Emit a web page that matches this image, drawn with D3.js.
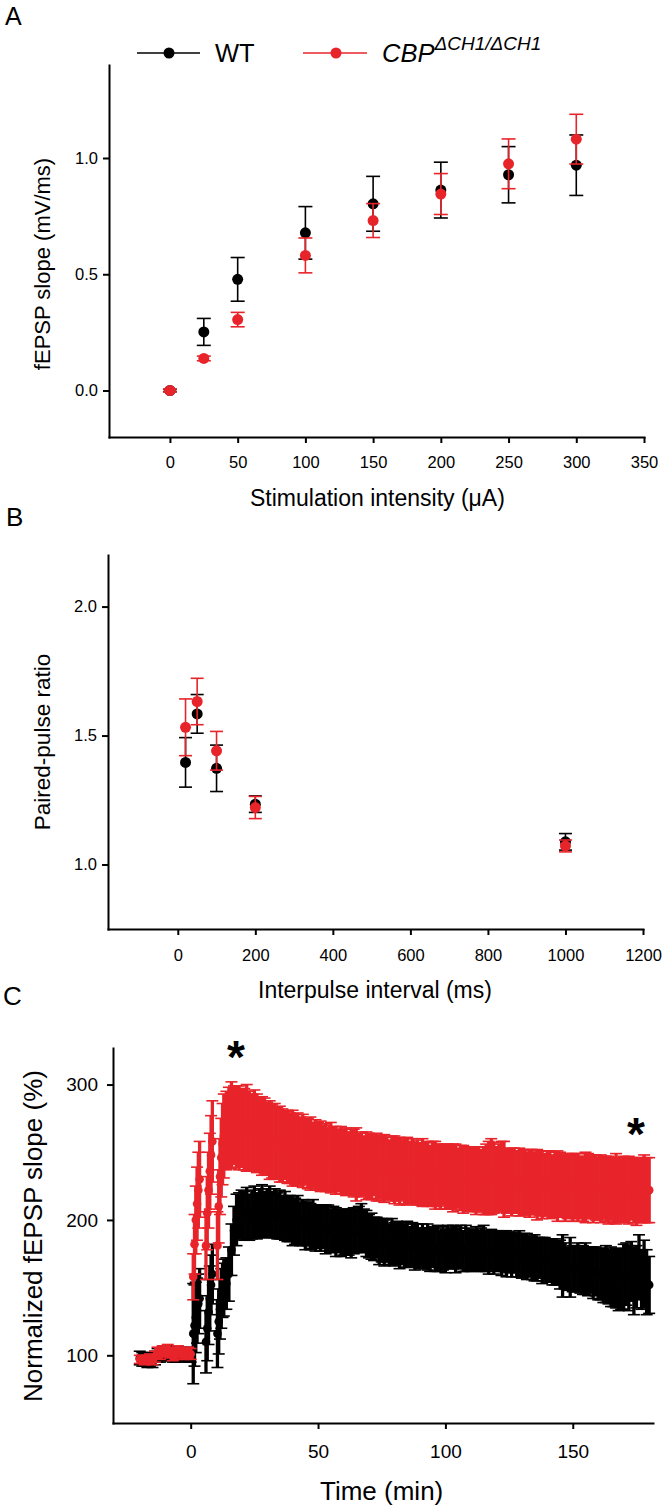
<!DOCTYPE html>
<html><head><meta charset="utf-8">
<script src="https://cdn.jsdelivr.net/npm/d3@7"></script>
<style>
body{margin:0;background:#fff}
svg{display:block}
text{font-family:"Liberation Sans",Arial,Helvetica,sans-serif;fill:#000}
</style>
</head><body>
<svg id="chart" width="666" height="1510"></svg>
<script>
// ---------- Panel A data ----------
const intensity = [0, 25, 50, 100, 150, 200, 250, 300];
const wtSlope = [0.00, 0.252, 0.478, 0.678, 0.803, 0.862, 0.928, 0.969];
const wtSlopeSem = [0.005, 0.058, 0.094, 0.113, 0.118, 0.12, 0.121, 0.13];
const cbpSlope = [0.00, 0.138, 0.305, 0.581, 0.731, 0.845, 0.975, 1.081];
const cbpSlopeSem = [0.006, 0.01, 0.031, 0.075, 0.073, 0.088, 0.107, 0.107];
const ticksAx = [0, 50, 100, 150, 200, 250, 300, 350];
const ticksAy = [0, 0.5, 1.0];

// ---------- Panel B data ----------
const interval = [20, 50, 100, 200, 1000];
const wtPPR = [1.396, 1.584, 1.373, 1.234, 1.088];
const wtPPRSem = [0.096, 0.075, 0.09, 0.032, 0.032];
const cbpPPR = [1.532, 1.632, 1.441, 1.221, 1.072];
const cbpPPRSem = [0.11, 0.09, 0.075, 0.043, 0.023];
const ticksBx = [0, 200, 400, 600, 800, 1000, 1200];
const ticksBy = [1.0, 1.5, 2.0];

// ---------- Panel C data ----------
const ltpTime = [
 -20,-19,-18,-17,-16,-15,-14,-13,-12,-11,
 -10,-9,-8,-7,-6,-5,-4,-3,-2,-1,
 0,
 1,1.5,2,2.5,3,3.5,
 6,6.5,7,7.5,8,8.5,
 10.5,11,11.5,12,12.5,
 13,14,15,16,17,18,19,20,
 21,22,23,24,25,26,27,28,29,30,
 31,32,33,34,35,36,37,38,39,40,
 41,42,43,44,45,46,47,48,49,50,
 51,52,53,54,55,56,57,58,59,60,
 61,62,63,64,65,66,67,68,69,70,
 71,72,73,74,75,76,77,78,79,80,
 81,82,83,84,85,86,87,88,89,90,
 91,92,93,94,95,96,97,98,99,100,
 101,102,103,104,105,106,107,108,109,110,
 111,112,113,114,115,116,117,118,119,120,
 121,122,123,124,125,126,127,128,129,130,
 131,132,133,134,135,136,137,138,139,140,
 141,142,143,144,145,146,147,148,149,150,
 151,152,153,154,155,156,157,158,159,160,
 161,162,163,164,165,166,167,168,169,170,
 171,172,173,174,175,176,177,178,179,180];

const wtLTP = [
 98,97,97,96,97,96,98,100,100,101,
 102,102,101,100,100,101,101,100,101,100,
 100,
 116,122,128,133,138,142,
 110,120,132,142,152,160,
 116,125,134,142,148,
 150,153,160,178,192,200,203,204,
 203,205,202,204,206,203,205,207,204,205,
 206,204,205,203,204,202,203,201,201,199,
 199,200,197,198,196,197,195,197,194,195,
 194,195,193,194,192,193,191,192,190,191,
 190,191,190,192,192,193,194,192,190,188,
 188,186,187,184,185,183,185,182,184,182,
 183,181,183,181,182,180,182,180,181,179,
 181,179,180,178,180,178,179,177,179,177,
 180,179,180,178,179,180,177,179,178,177,
 178,179,177,178,179,177,176,178,176,177,
 177,175,177,175,176,174,176,174,175,173,
 174,173,173,172,172,171,172,170,171,170,
 170,169,169,168,167,166,166,164,165,164,
 164,165,163,163,164,162,163,161,162,160,
 160,159,160,158,158,157,157,156,156,158,
 160,157,162,155,158,165,156,160,154,152];

const wtLTPSem = [
 5,5,5,5,5,5,5,5,5,5,
 5,5,5,5,5,5,5,5,5,5,
 5,
 37,30,26,24,22,22,
 23,24,24,24,22,22,
 25,24,22,22,20,
 21,19,20,19,18,19,17,18,
 18,19,17,18,19,17,18,19,17,18,
 19,17,18,17,18,16,18,17,17,18,
 17,18,16,17,18,16,17,18,17,16,
 17,16,18,17,16,17,18,16,17,17,
 16,17,18,17,16,17,18,16,17,16,
 17,16,15,17,16,17,16,15,17,16,
 16,17,15,16,17,15,16,17,16,15,
 16,15,17,16,15,16,17,15,16,16,
 16,15,16,17,15,16,15,17,16,15,
 15,16,15,16,17,15,16,15,16,15,
 15,16,15,17,15,16,15,16,17,16,
 16,17,15,16,17,16,15,17,16,16,
 16,17,17,16,18,23,17,16,22,17,
 17,18,17,18,19,18,17,19,18,19,
 19,20,21,20,22,21,22,23,22,24,
 23,24,22,25,23,24,22,25,24,21];

const cbpLTP = [
 97,97,96,97,98,96,99,102,101,103,
 103,104,102,100,101,103,102,101,101,102,
 101,
 158,182,200,212,222,230,
 181,205,222,236,248,258,
 181,210,232,246,256,
 262,266,268,270,270,269,268,268,
 267,268,266,265,266,264,263,262,262,260,
 259,258,258,257,256,255,255,254,253,253,
 252,252,251,251,250,249,249,248,248,247,
 247,246,246,245,246,245,244,244,244,243,
 243,242,243,242,241,241,241,240,240,240,
 239,240,239,238,239,238,238,237,238,237,
 237,236,237,236,236,235,236,235,235,234,
 235,234,234,233,234,233,233,232,233,232,
 232,232,231,232,231,231,230,231,230,230,
 230,229,230,229,229,230,231,232,231,230,
 231,232,230,229,229,228,229,228,228,227,
 228,227,227,228,227,226,227,226,226,227,
 226,225,226,225,226,225,224,225,225,224,
 225,224,224,223,224,225,224,223,224,223,
 223,224,223,222,223,222,223,222,222,223,
 222,222,223,222,221,222,222,223,222,222];

const cbpLTPSem = [
 3,3,3,3,3,3,4,4,4,4,
 4,4,4,4,4,4,4,4,4,4,
 4,
 17,22,25,27,28,28,
 25,27,28,28,29,30,
 25,27,28,29,30,
 31,29,30,32,29,30,31,29,
 30,32,29,28,30,29,27,29,28,27,
 29,27,28,26,28,27,25,27,26,28,
 26,27,25,27,24,26,27,24,26,25,
 26,24,25,23,26,24,25,23,25,24,
 25,23,24,25,27,23,24,22,25,24,
 24,22,25,24,23,25,23,22,24,25,
 23,25,22,24,25,23,24,22,24,23,
 25,23,24,22,24,25,23,24,22,24,
 24,23,25,24,22,24,25,23,24,23,
 23,25,24,23,25,26,27,28,26,24,
 25,26,28,24,23,25,24,23,25,24,
 24,23,25,24,23,26,24,25,23,24,
 25,23,24,26,24,23,25,24,23,25,
 24,25,23,24,26,24,23,25,24,23,
 25,23,24,25,23,24,26,24,23,24,
 24,25,23,24,25,23,24,25,24,24];

const ticksCx = [0, 50, 100, 150];
const ticksCy = [100, 200, 300];

// ---------- Drawing ----------
const RED = '#e8242b', BLACK = '#000000';
const svg = d3.select('#chart');

function series(xs, ms, es) {
  const n = Math.min(xs.length, ms.length, es.length);
  return d3.range(n).map(i => ({x: xs[i], m: ms[i], e: es[i]}));
}

function drawErr(g, data, x, y, color, cap, r, sw, csw, dotsOnTop) {
  const gg = g.append('g');
  const bars = gg.append('g').attr('stroke', color).attr('fill', 'none');
  data.forEach(d => {
    const cx = x(d.x), y1 = y(d.m - d.e), y2 = y(d.m + d.e);
    bars.append('line').attr('x1', cx).attr('x2', cx).attr('y1', y1).attr('y2', y2).attr('stroke-width', sw);
    bars.append('line').attr('x1', cx - cap).attr('x2', cx + cap).attr('y1', y1).attr('y2', y1).attr('stroke-width', csw);
    bars.append('line').attr('x1', cx - cap).attr('x2', cx + cap).attr('y1', y2).attr('y2', y2).attr('stroke-width', csw);
  });
  const dots = gg.append('g').attr('fill', color);
  dots.selectAll('circle').data(data).join('circle')
    .attr('cx', d => x(d.x)).attr('cy', d => y(d.m)).attr('r', r);
  if (!dotsOnTop) dots.lower();
}

function axes(g, x, y, o) {
  const xa = g.append('g').attr('transform', `translate(0,${y.range()[0]})`)
    .call(d3.axisBottom(x).tickValues(o.xt).tickSize(6).tickSizeOuter(0).tickPadding(o.xpad).tickFormat(o.xf));
  const ya = g.append('g').attr('transform', `translate(${x.range()[0]},0)`)
    .call(d3.axisLeft(y).tickValues(o.yt).tickSize(6).tickSizeOuter(0).tickPadding(o.ypad).tickFormat(o.yf));
  [xa, ya].forEach(a => {
    a.select('.domain').attr('stroke', '#000').attr('stroke-width', 2).attr('stroke-linecap', 'square');
    a.selectAll('.tick line').attr('stroke', '#000').attr('stroke-width', 2);
    a.selectAll('text').attr('font-family', '"Liberation Sans",Arial,sans-serif').attr('fill', '#000');
  });
  xa.selectAll('text').attr('font-size', o.fs);
  ya.selectAll('text').attr('font-size', o.fs);
}

// ----- Panel A -----
const xA = d3.scaleLinear().domain([-45, 350]).range([109, 644]);
const yA = d3.scaleLinear().domain([-0.2, 1.4]).range([437, 65]);
const gA = svg.append('g');
axes(gA, xA, yA, {xt: ticksAx, yt: ticksAy, xpad: 13, ypad: 5, xf: d3.format('d'), yf: d3.format('.1f'), fs: '16.5px'});
drawErr(gA, series(intensity, wtSlope, wtSlopeSem), xA, yA, BLACK, 7, 5.5, 1.6, 1.6, true);
drawErr(gA, series(intensity, cbpSlope, cbpSlopeSem), xA, yA, RED, 7, 5.5, 1.6, 1.6, true);
gA.append('text').attr('x', 250).attr('y', 505.5).attr('font-size', '23px').text('Stimulation intensity (\u03bcA)');
gA.append('text').attr('transform', 'translate(50,264) rotate(-90)').attr('text-anchor', 'middle')
  .attr('font-size', '22px').text('fEPSP slope (mV/ms)');
svg.append('text').attr('x', 5).attr('y', 25).attr('font-size', '25px').text('A');

// legend
const lg = svg.append('g');
lg.append('line').attr('x1', 137).attr('x2', 200).attr('y1', 53).attr('y2', 53).attr('stroke', BLACK).attr('stroke-width', 1.6);
lg.append('circle').attr('cx', 169).attr('cy', 53).attr('r', 5.5).attr('fill', BLACK);
lg.append('text').attr('x', 215).attr('y', 61.7).attr('font-size', '25.5px').text('WT');
lg.append('line').attr('x1', 303).attr('x2', 367).attr('y1', 53).attr('y2', 53).attr('stroke', RED).attr('stroke-width', 1.6);
lg.append('circle').attr('cx', 336).attr('cy', 53).attr('r', 5.5).attr('fill', RED);
const lt = lg.append('text').attr('x', 382).attr('y', 61.7).attr('font-size', '25.5px').attr('font-style', 'italic');
lt.append('tspan').text('CBP');
lt.append('tspan').attr('dy', -11.7).attr('font-size', '19px').text('\u0394CH1/\u0394CH1');

// ----- Panel B -----
const xB = d3.scaleLinear().domain([-180, 1200]).range([108, 643]);
const yB = d3.scaleLinear().domain([0.75, 2.2]).range([929, 555]);
const gB = svg.append('g');
axes(gB, xB, yB, {xt: ticksBx, yt: ticksBy, xpad: 14, ypad: 5, xf: d3.format('d'), yf: d3.format('.1f'), fs: '16.5px'});
drawErr(gB, series(interval, wtPPR, wtPPRSem), xB, yB, BLACK, 6.5, 5.5, 1.6, 1.6, true);
drawErr(gB, series(interval, cbpPPR, cbpPPRSem), xB, yB, RED, 6.5, 5.5, 1.6, 1.6, true);
gB.append('text').attr('x', 258).attr('y', 998).attr('font-size', '23px').text('Interpulse interval (ms)');
gB.append('text').attr('transform', 'translate(50,742) rotate(-90)').attr('text-anchor', 'middle')
  .attr('font-size', '22.5px').text('Paired-pulse ratio');
svg.append('text').attr('x', 6).attr('y', 526).attr('font-size', '26px').text('B');

// ----- Panel C -----
const xC = d3.scaleLinear().domain([-30.5, 181.5]).range([113, 653]);
const yC = d3.scaleLinear().domain([50, 327]).range([1423, 1048]);
const gC = svg.append('g');
axes(gC, xC, yC, {xt: ticksCx, yt: ticksCy, xpad: 16, ypad: 9, xf: d3.format('d'), yf: d3.format('d'), fs: '19px'});
drawErr(gC, series(ltpTime, wtLTP, wtLTPSem), xC, yC, BLACK, 6, 4.3, 3.3, 1.6, false);
drawErr(gC, series(ltpTime, cbpLTP, cbpLTPSem), xC, yC, RED, 6, 4.3, 3.3, 1.6, false);
gC.append('text').attr('x', 320).attr('y', 1500).attr('font-size', '26px').text('Time (min)');
gC.append('text').attr('transform', 'translate(42,1236) rotate(-90)').attr('text-anchor', 'middle')
  .attr('font-size', '26px').text('Normalized fEPSP slope (%)');
svg.append('text').attr('x', 3).attr('y', 1005).attr('font-size', '26px').text('C');
// significance asterisks
const stars = [{t: 17.8, v: 328}, {t: 174.8, v: 271}];
gC.selectAll('text.star').data(stars).join('text').attr('class', 'star')
  .attr('x', d => xC(d.t)).attr('y', d => yC(d.v)).attr('dy', '0.575em')
  .attr('text-anchor', 'middle').attr('font-size', '46px').attr('font-weight', 'bold').text('*');
</script>
</body></html>
